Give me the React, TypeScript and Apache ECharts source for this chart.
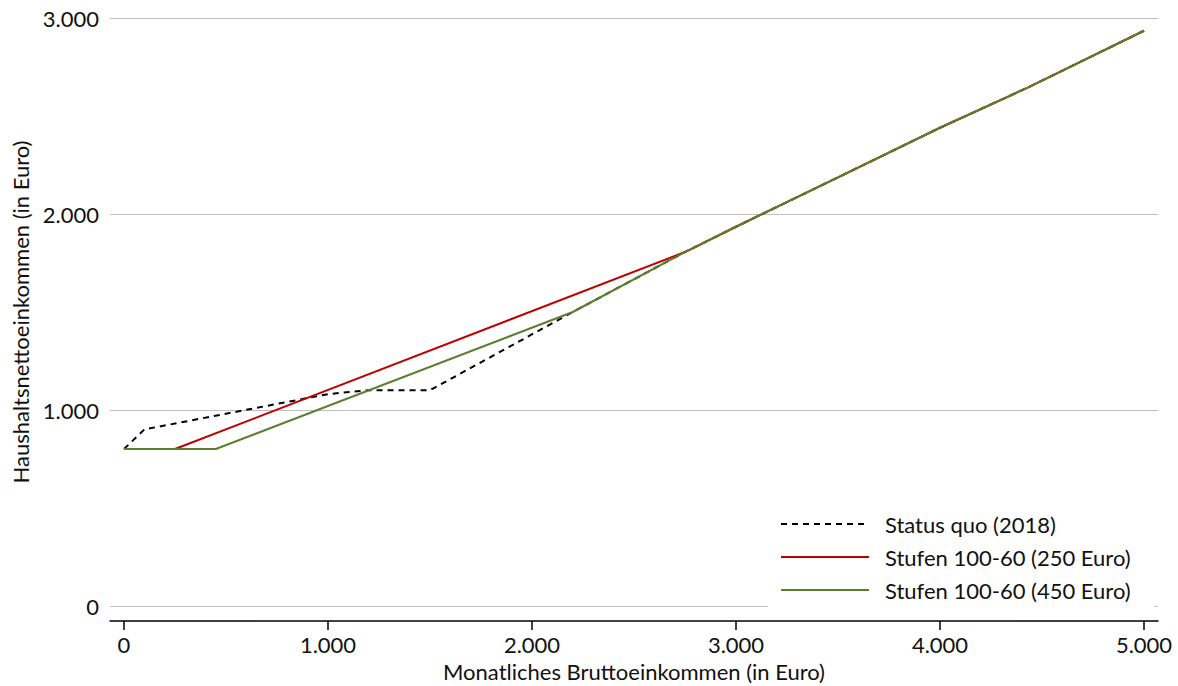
import React, { useEffect, useRef } from "react";
import * as echarts from "echarts";

const xTicks = [0, 1000, 2000, 3000, 4000, 5000];
const yTicks = [0, 1000, 2000, 3000];

const seriesNames = ["Status quo (2018)", "Stufen 100-60 (250 Euro)", "Stufen 100-60 (450 Euro)"];

// common upper part of all three schedules
const commonPart: [number, number][] = [
  [2750, 1806],
  [3000, 1935],
  [3500, 2187],
  [4000, 2440],
  [4430, 2645],
  [5000, 2935],
];

const statusQuo: [number, number][] = [
  [0, 801],
  [100, 901],
  [1000, 1081],
  [1200, 1101],
  [1500, 1101],
  [2200, 1500],
  ...commonPart,
];

const stufen250: [number, number][] = [
  [0, 801],
  [250, 801],
  ...commonPart,
];

const stufen450: [number, number][] = [
  [0, 801],
  [450, 801],
  [2200, 1500],
  ...commonPart,
];

const colors = ["#000000", "#C00000", "#5B7F2F"];

const fmt = (v: number) => {
  if (v === 0) return "0";
  return v.toLocaleString("de-DE");
};

const FONT = "Lato, 'Noto Sans', sans-serif";
const FS = 22;

export default function App() {
  const ref = useRef<HTMLDivElement>(null);
  useEffect(() => {
    if (!ref.current) return;
    const chart = echarts.init(ref.current, undefined, { renderer: "svg" });
    chart.setOption({
      animation: false,
      textStyle: { fontFamily: FONT },
      grid: { left: 110, right: 20, top: 18, bottom: 80, containLabel: false, outerBoundsMode: "none" },
      legend: {
        orient: "vertical",
        left: 768,
        top: 505,
        backgroundColor: "#ffffff",
        padding: [8, 24, 8, 12],
        itemWidth: 88,
        itemHeight: 22,
        itemGap: 11,
        itemStyle: { opacity: 0 },
        textStyle: { fontSize: FS, lineHeight: 22, color: "#111", fontFamily: FONT, padding: [0, 0, 0, 11] },
        data: seriesNames,
      },
      xAxis: {
        type: "value",
        min: -68.6,
        max: 5068.6,
        offset: 15,
        name: "Monatliches Bruttoeinkommen (in Euro)",
        nameLocation: "middle",
        nameGap: 39,
        nameTextStyle: { fontSize: FS, color: "#111", fontFamily: FONT },
        axisLine: { show: true, onZero: false, lineStyle: { color: "#000", width: 1.5 } },
        axisTick: { show: true, customValues: xTicks, length: 9, lineStyle: { color: "#000", width: 1.5 } },
        axisLabel: {
          customValues: xTicks,
          fontSize: FS,
          color: "#111",
          margin: 12,
          fontFamily: FONT,
          formatter: (v: number) => fmt(v),
        },
        splitLine: { show: false },
      },
      yAxis: {
        type: "value",
        min: 0,
        max: 3000,
        interval: 1000,
        name: "Haushaltsnettoeinkommen (in Euro)",
        nameLocation: "middle",
        nameGap: 77,
        nameTextStyle: { fontSize: FS, color: "#111", fontFamily: FONT },
        axisLine: { show: false },
        axisTick: { show: false },
        axisLabel: {
          fontSize: FS,
          color: "#111",
          margin: 11,
          fontFamily: FONT,
          formatter: (v: number) => fmt(v),
        },
        splitLine: { show: true, lineStyle: { color: "#BFBFBF", width: 1 } },
      },
      series: [
        {
          name: seriesNames[0],
          type: "line",
          data: statusQuo,
          showSymbol: false,
          symbol: "none",
          lineStyle: { color: colors[0], width: 2, type: [6, 5] },
          itemStyle: { color: colors[0] },
          z: 1,
        },
        {
          name: seriesNames[1],
          type: "line",
          data: stufen250,
          showSymbol: false,
          symbol: "none",
          lineStyle: { color: colors[1], width: 2 },
          itemStyle: { color: colors[1] },
          z: 2,
        },
        {
          name: seriesNames[2],
          type: "line",
          data: stufen450,
          showSymbol: false,
          symbol: "none",
          lineStyle: { color: colors[2], width: 2 },
          itemStyle: { color: colors[2] },
          z: 3,
        },
      ],
    });
    return () => chart.dispose();
  }, []);
  return <div ref={ref} style={{ width: 1178, height: 686, position: "absolute", left: 0, top: 0 }} />;
}
